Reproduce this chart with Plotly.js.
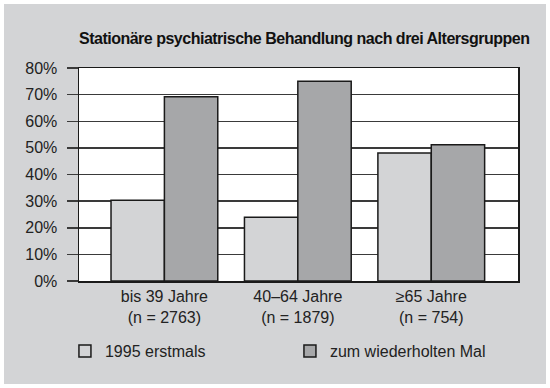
<!DOCTYPE html>
<html><head><meta charset="utf-8">
<script src="https://cdn.plot.ly/plotly-3.0.1.min.js"></script>
<style>
html,body{margin:0;padding:0;background:#fff;}
#chart{position:absolute;left:4px;top:4px;width:542px;height:380px;}
.gtitle{letter-spacing:-0.5px;}
</style></head>
<body><div id="chart"></div>
<script>
const categories = ["bis 39 Jahre<br>(n = 2763)", "40–64 Jahre<br>(n = 1879)", "≥65 Jahre<br>(n = 754)"];
const seriesNames = ["1995 erstmals", "zum wiederholten Mal"];
const erstmals = [30.3, 23.9, 48.1];
const wiederholt = [69.2, 75.0, 51.2];
const yTickVals = [0, 10, 20, 30, 40, 50, 60, 70, 80];
const yTickText = ["0%", "10%", "20%", "30%", "40%", "50%", "60%", "70%", "80%"];

const font = "Liberation Sans, Arial, sans-serif";
const traces = [
  {type:"bar", name:seriesNames[0], x:categories, y:erstmals,
   marker:{color:"#d3d4d6", line:{color:"#1a1a1a", width:1.5}}},
  {type:"bar", name:seriesNames[1], x:categories, y:wiederholt,
   marker:{color:"#a6a7a9", line:{color:"#1a1a1a", width:1.5}}}
];
const layout = {
  width:542, height:380,
  paper_bgcolor:"#d3d4d6", plot_bgcolor:"#ffffff",
  margin:{l:75, r:28, t:64, b:103},
  font:{family:font, size:16, color:"#222"},
  title:{text:"<b>Stationäre psychiatrische Behandlung nach drei Altersgruppen</b>",
    font:{family:font, size:16, color:"#111"},
    xref:"paper", x:0, xanchor:"left", yref:"container", y:0.9105, yanchor:"middle"},
  barmode:"group", bargap:0.2, bargroupgap:0,
  xaxis:{type:"category", range:[-0.64, 2.65], showgrid:false, ticks:"",
    showline:true, mirror:true, linecolor:"#1a1a1a", linewidth:1.5,
    tickfont:{size:16, color:"#222"}, fixedrange:true},
  yaxis:{range:[0, 80], tickvals:yTickVals, ticktext:yTickText,
    showgrid:true, gridcolor:"#3a3a3a", gridwidth:1.5,
    ticks:"outside", ticklen:11, tickwidth:1.5, tickcolor:"#3a3a3a",
    ticklabelstandoff:6,
    showline:true, mirror:true, linecolor:"#1a1a1a", linewidth:1.5,
    zeroline:false, tickfont:{size:16, color:"#222"}, fixedrange:true},
  showlegend:true,
  legend:{orientation:"h", x:-0.032, xanchor:"left", y:-0.329, yanchor:"middle",
    bgcolor:"rgba(0,0,0,0)", font:{size:16, color:"#222"}, entrywidth:180,
    traceorder:"normal"}
};
Plotly.newPlot("chart", traces, layout, {displayModeBar:false, staticPlot:true});
</script></body></html>
